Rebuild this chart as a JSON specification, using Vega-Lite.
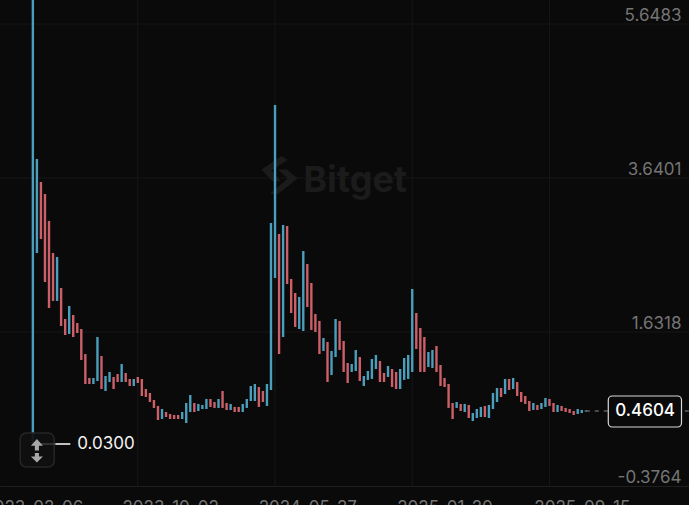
{"$schema":"https://vega.github.io/schema/vega-lite/v6.json","width":689,"height":505,"padding":0,"autosize":"none","background":"#0a0a0a",
"config":{"view":{"stroke":null},"font":"Inter"},
"datasets":{"bars":[
{"date":"2023-02-06","high":6.3,"low":0.03,"side":"up"},{"date":"2023-02-13","high":3.746,"low":2.52,"side":"up"},{"date":"2023-02-20","high":3.446,"low":2.703,"side":"down"},{"date":"2023-02-27","high":3.29,"low":2.142,"side":"down"},
{"date":"2023-03-06","high":2.938,"low":1.803,"side":"down"},{"date":"2023-03-13","high":2.52,"low":1.895,"side":"down"},{"date":"2023-03-20","high":2.468,"low":1.895,"side":"up"},{"date":"2023-03-27","high":2.064,"low":1.568,"side":"down"},
{"date":"2023-04-03","high":1.66,"low":1.451,"side":"down"},{"date":"2023-04-10","high":1.829,"low":1.464,"side":"up"},{"date":"2023-04-17","high":1.712,"low":1.425,"side":"down"},{"date":"2023-04-24","high":1.608,"low":1.477,"side":"down"},
{"date":"2023-05-01","high":1.529,"low":1.125,"side":"down"},{"date":"2023-05-08","high":1.203,"low":0.812,"side":"down"},{"date":"2023-05-15","high":0.891,"low":0.812,"side":"down"},{"date":"2023-05-22","high":0.891,"low":0.812,"side":"up"},{"date":"2023-05-29","high":1.425,"low":0.851,"side":"up"},
{"date":"2023-06-05","high":1.177,"low":0.747,"side":"down"},{"date":"2023-06-12","high":0.917,"low":0.721,"side":"up"},{"date":"2023-06-19","high":0.969,"low":0.838,"side":"up"},{"date":"2023-06-26","high":0.904,"low":0.747,"side":"down"},
{"date":"2023-07-03","high":0.943,"low":0.838,"side":"down"},{"date":"2023-07-10","high":1.073,"low":0.838,"side":"up"},{"date":"2023-07-17","high":0.956,"low":0.838,"side":"down"},{"date":"2023-07-24","high":0.878,"low":0.786,"side":"down"},{"date":"2023-07-31","high":0.878,"low":0.786,"side":"up"},
{"date":"2023-08-07","high":0.904,"low":0.825,"side":"down"},{"date":"2023-08-14","high":0.878,"low":0.656,"side":"down"},{"date":"2023-08-21","high":0.747,"low":0.643,"side":"down"},{"date":"2023-08-28","high":0.695,"low":0.578,"side":"down"},
{"date":"2023-09-04","high":0.604,"low":0.5,"side":"down"},{"date":"2023-09-11","high":0.526,"low":0.343,"side":"down"},{"date":"2023-09-18","high":0.486,"low":0.356,"side":"up"},{"date":"2023-09-25","high":0.447,"low":0.382,"side":"down"},
{"date":"2023-10-02","high":0.421,"low":0.356,"side":"down"},{"date":"2023-10-09","high":0.408,"low":0.356,"side":"down"},{"date":"2023-10-16","high":0.408,"low":0.356,"side":"down"},{"date":"2023-10-23","high":0.447,"low":0.356,"side":"up"},{"date":"2023-10-30","high":0.565,"low":0.304,"side":"up"},
{"date":"2023-11-06","high":0.669,"low":0.447,"side":"up"},{"date":"2023-11-13","high":0.565,"low":0.447,"side":"down"},{"date":"2023-11-20","high":0.552,"low":0.46,"side":"up"},{"date":"2023-11-27","high":0.539,"low":0.486,"side":"up"},
{"date":"2023-12-04","high":0.617,"low":0.486,"side":"up"},{"date":"2023-12-11","high":0.617,"low":0.513,"side":"down"},{"date":"2023-12-18","high":0.578,"low":0.5,"side":"down"},{"date":"2023-12-25","high":0.617,"low":0.5,"side":"up"},
{"date":"2024-01-01","high":0.721,"low":0.5,"side":"down"},{"date":"2024-01-08","high":0.565,"low":0.473,"side":"down"},{"date":"2024-01-15","high":0.552,"low":0.473,"side":"up"},{"date":"2024-01-22","high":0.513,"low":0.447,"side":"down"},{"date":"2024-01-29","high":0.513,"low":0.447,"side":"down"},
{"date":"2024-02-05","high":0.552,"low":0.447,"side":"up"},{"date":"2024-02-12","high":0.617,"low":0.5,"side":"up"},{"date":"2024-02-19","high":0.786,"low":0.591,"side":"up"},{"date":"2024-02-26","high":0.812,"low":0.591,"side":"up"},
{"date":"2024-03-04","high":0.773,"low":0.513,"side":"down"},{"date":"2024-03-11","high":0.721,"low":0.578,"side":"down"},{"date":"2024-03-18","high":0.812,"low":0.526,"side":"up"},{"date":"2024-03-25","high":2.912,"low":0.734,"side":"up"},
{"date":"2024-04-01","high":4.45,"low":2.194,"side":"up"},{"date":"2024-04-08","high":2.768,"low":1.203,"side":"down"},{"date":"2024-04-15","high":2.886,"low":1.425,"side":"up"},{"date":"2024-04-22","high":2.872,"low":2.116,"side":"down"},{"date":"2024-04-29","high":2.181,"low":1.738,"side":"down"},
{"date":"2024-05-06","high":1.999,"low":1.556,"side":"down"},{"date":"2024-05-13","high":1.947,"low":1.529,"side":"up"},{"date":"2024-05-20","high":2.546,"low":1.503,"side":"up"},{"date":"2024-05-27","high":2.377,"low":1.816,"side":"down"},
{"date":"2024-06-03","high":2.129,"low":1.517,"side":"down"},{"date":"2024-06-10","high":1.725,"low":1.49,"side":"down"},{"date":"2024-06-17","high":1.634,"low":1.203,"side":"down"},{"date":"2024-06-24","high":1.412,"low":1.243,"side":"up"},
{"date":"2024-07-01","high":1.36,"low":0.838,"side":"down"},{"date":"2024-07-08","high":1.243,"low":0.93,"side":"up"},{"date":"2024-07-15","high":1.66,"low":1.164,"side":"up"},{"date":"2024-07-22","high":1.634,"low":1.256,"side":"down"},{"date":"2024-07-29","high":1.373,"low":0.969,"side":"down"},
{"date":"2024-08-05","high":1.086,"low":0.825,"side":"down"},{"date":"2024-08-12","high":1.073,"low":0.969,"side":"up"},{"date":"2024-08-19","high":1.256,"low":0.982,"side":"up"},{"date":"2024-08-26","high":1.164,"low":0.851,"side":"down"},
{"date":"2024-09-02","high":0.917,"low":0.786,"side":"up"},{"date":"2024-09-09","high":0.982,"low":0.865,"side":"up"},{"date":"2024-09-16","high":1.138,"low":0.878,"side":"up"},{"date":"2024-09-23","high":1.191,"low":1.008,"side":"up"},{"date":"2024-09-30","high":1.112,"low":0.838,"side":"down"},
{"date":"2024-10-07","high":0.956,"low":0.838,"side":"down"},{"date":"2024-10-14","high":1.047,"low":0.904,"side":"up"},{"date":"2024-10-21","high":1.008,"low":0.773,"side":"down"},{"date":"2024-10-28","high":0.969,"low":0.747,"side":"down"},
{"date":"2024-11-04","high":1.008,"low":0.747,"side":"up"},{"date":"2024-11-11","high":1.151,"low":0.865,"side":"up"},{"date":"2024-11-18","high":1.191,"low":0.878,"side":"up"},{"date":"2024-11-25","high":2.051,"low":0.969,"side":"up"},
{"date":"2024-12-02","high":1.738,"low":1.269,"side":"down"},{"date":"2024-12-09","high":1.543,"low":0.969,"side":"down"},{"date":"2024-12-16","high":1.425,"low":0.969,"side":"down"},{"date":"2024-12-23","high":1.23,"low":1.034,"side":"up"},{"date":"2024-12-30","high":1.256,"low":1.021,"side":"up"},
{"date":"2025-01-06","high":1.308,"low":0.969,"side":"down"},{"date":"2025-01-13","high":1.06,"low":0.786,"side":"down"},{"date":"2025-01-20","high":0.891,"low":0.773,"side":"down"},{"date":"2025-01-27","high":0.812,"low":0.5,"side":"down"},
{"date":"2025-02-03","high":0.565,"low":0.356,"side":"down"},{"date":"2025-02-10","high":0.578,"low":0.5,"side":"up"},{"date":"2025-02-17","high":0.552,"low":0.46,"side":"down"},{"date":"2025-02-24","high":0.552,"low":0.447,"side":"up"},
{"date":"2025-03-03","high":0.539,"low":0.369,"side":"down"},{"date":"2025-03-10","high":0.434,"low":0.33,"side":"up"},{"date":"2025-03-17","high":0.486,"low":0.369,"side":"up"},{"date":"2025-03-24","high":0.513,"low":0.382,"side":"up"},{"date":"2025-03-31","high":0.526,"low":0.382,"side":"down"},
{"date":"2025-04-07","high":0.539,"low":0.369,"side":"up"},{"date":"2025-04-14","high":0.695,"low":0.486,"side":"up"},{"date":"2025-04-21","high":0.76,"low":0.578,"side":"up"},{"date":"2025-04-28","high":0.76,"low":0.643,"side":"down"},
{"date":"2025-05-05","high":0.878,"low":0.682,"side":"up"},{"date":"2025-05-12","high":0.878,"low":0.734,"side":"down"},{"date":"2025-05-19","high":0.891,"low":0.747,"side":"up"},{"date":"2025-05-26","high":0.838,"low":0.656,"side":"down"},
{"date":"2025-06-02","high":0.708,"low":0.578,"side":"down"},{"date":"2025-06-09","high":0.656,"low":0.552,"side":"down"},{"date":"2025-06-16","high":0.591,"low":0.46,"side":"down"},{"date":"2025-06-23","high":0.565,"low":0.473,"side":"up"},{"date":"2025-06-30","high":0.539,"low":0.473,"side":"down"},
{"date":"2025-07-07","high":0.565,"low":0.486,"side":"up"},{"date":"2025-07-14","high":0.63,"low":0.513,"side":"up"},{"date":"2025-07-21","high":0.617,"low":0.526,"side":"down"},{"date":"2025-07-28","high":0.565,"low":0.447,"side":"down"},
{"date":"2025-08-04","high":0.539,"low":0.447,"side":"up"},{"date":"2025-08-11","high":0.526,"low":0.46,"side":"down"},{"date":"2025-08-18","high":0.5,"low":0.447,"side":"down"},{"date":"2025-08-25","high":0.486,"low":0.434,"side":"down"},
{"date":"2025-09-01","high":0.46,"low":0.408,"side":"down"},{"date":"2025-09-08","high":0.486,"low":0.421,"side":"up"},{"date":"2025-09-15","high":0.473,"low":0.434,"side":"up"},{"date":"2025-09-22","high":0.467,"low":0.454,"side":"up"}
]},
"layer":[
{"data":{"values":[{"v":5.506,"t":"2022-12-11","t2":"2026-03-20"},{"v":3.498,"t":"2022-12-11","t2":"2026-03-20"},{"v":1.49,"t":"2022-12-11","t2":"2026-03-20"}]},"mark":{"type":"rule","color":"#171717","strokeWidth":1},"encoding":{"y":{"field":"v","type":"quantitative","scale":{"domain":[-0.7653,5.8189],"nice":false,"zero":false},"axis":{"orient":"right","values":[5.6483,3.6401,1.6318,-0.3764],"format":".4f","labelExpr":"replace(datum.label,'−','-')","title":null,"ticks":false,"domain":false,"grid":false,"labelAlign":"right","labelPadding":-8,"labelOffset":2,"labelFontSize":17,"labelColor":"#757575","labelFont":"Inter","labelBound":false,"labelFlush":false}}}},
{"data":{"values":[{"t":"2023-08-07","v":5.8189,"v2":-0.5174},{"t":"2024-04-01","v":5.8189,"v2":-0.5174},{"t":"2024-11-25","v":5.8189,"v2":-0.5174},{"t":"2025-07-21","v":5.8189,"v2":-0.5174}]},"mark":{"type":"rule","color":"#171717","strokeWidth":1},"encoding":{"x":{"field":"t","type":"temporal","scale":{"type":"utc","domain":["2022-12-11","2026-03-20"]},"axis":{"values":["2023-02-06","2023-10-02","2024-05-27","2025-01-20","2025-09-15"],"format":"%Y-%m-%d","title":null,"ticks":false,"grid":false,"domain":true,"domainColor":"#1e1e1e","offset":-19,"labelFontSize":17,"labelColor":"#757575","labelFont":"Inter","labelPadding":13,"labelOverlap":false,"labelBound":false,"labelFlush":false,"labelAlign":"center","labelBaseline":"top"}},"y":{"field":"v","type":"quantitative"},"y2":{"field":"v2"}}},
{"data":{"values":[{"t":"2024-05-20","v":3.316,"label":"Bitget"}]},"mark":{"type":"text","align":"left","baseline":"alphabetic","font":"Inter","fontWeight":700,"fontSize":36,"color":"#1b1b1b"},"encoding":{"x":{"field":"t","type":"temporal"},"y":{"field":"v","type":"quantitative"},"text":{"field":"label"}}},
{"data":{"values":[{"t":"2024-04-09","v":3.537}]},"mark":{"type":"point","filled":true,"opacity":1,"size":1296,"color":"#1b1b1b","shape":"M0.1,-1.05 L-1,-0.3 L-0.4,0.35 L0.05,0.35 L-0.45,-0.25 L0.45,-0.85 Z M-0.1,-0.3 L0.4,-0.3 L1,0.2 L-0.1,1.05 L-0.55,1.05 L0.45,0.2 Z"},"encoding":{"x":{"field":"t","type":"temporal"},"y":{"field":"v","type":"quantitative"}}},
{"data":{"name":"bars"},"mark":{"type":"rule","strokeWidth":2.4,"clip":true},"encoding":{"x":{"field":"date","type":"temporal"},"y":{"field":"high","type":"quantitative"},"y2":{"field":"low"},"color":{"field":"side","type":"nominal","scale":{"domain":["up","down"],"range":["#4a9fbd","#cc5f68"]},"legend":null}}},
{"data":{"values":[{"t":"2025-09-22","t2":"2026-03-20","v":0.4604}]},"mark":{"type":"rule","color":"#8a8a8a","strokeWidth":1,"strokeDash":[4,5]},"encoding":{"x":{"field":"t","type":"temporal"},"x2":{"field":"t2"},"y":{"field":"v","type":"quantitative"}}},
{"data":{"values":[{"t":"2023-01-15","t2":"2023-03-15","v":0.1736,"v2":-0.2697}]},"mark":{"type":"rect","fill":"#101010","fillOpacity":0.93,"stroke":"#262626","strokeWidth":1.5,"cornerRadius":6},"encoding":{"x":{"field":"t","type":"temporal"},"x2":{"field":"t2"},"y":{"field":"v","type":"quantitative"},"y2":{"field":"v2"}}},
{"data":{"values":[{"t":"2023-02-13","t2":"2023-03-17","v":0.03}]},"mark":{"type":"rule","color":"#555555","strokeWidth":1},"encoding":{"x":{"field":"t","type":"temporal"},"x2":{"field":"t2"},"y":{"field":"v","type":"quantitative"}}},
{"data":{"values":[{"t":"2023-02-13","v":-0.0546}]},"mark":{"type":"point","filled":true,"opacity":1,"size":576,"color":"#a8a8a8","shape":"M0,-0.96 L0.5,-0.4 L0.17,-0.4 L0.17,0 L-0.17,0 L-0.17,-0.4 L-0.5,-0.4 Z M0.17,0.2 L0.17,0.5 L0.5,0.5 L0,1 L-0.5,0.5 L-0.17,0.5 L-0.17,0.2 Z"},"encoding":{"x":{"field":"t","type":"temporal"},"y":{"field":"v","type":"quantitative"}}},
{"data":{"values":[{"t":"2023-03-17","t2":"2023-04-12","v":0.03}]},"mark":{"type":"rule","color":"#ffffff","strokeWidth":1.5},"encoding":{"x":{"field":"t","type":"temporal"},"x2":{"field":"t2"},"y":{"field":"v","type":"quantitative"}}},
{"data":{"values":[{"t":"2023-04-24","v":0.03,"label":"0.0300"}]},"mark":{"type":"text","align":"left","baseline":"middle","font":"Inter","fontSize":17,"color":"#f2f2f2"},"encoding":{"x":{"field":"t","type":"temporal"},"y":{"field":"v","type":"quantitative"},"text":{"field":"label"}}},
{"data":{"values":[{"t":"2025-10-31","t2":"2026-03-07","v":0.656,"v2":0.2518}]},"mark":{"type":"rect","fill":"#0a0a0a","stroke":"#d8d8d8","strokeWidth":1.2,"cornerRadius":4},"encoding":{"x":{"field":"t","type":"temporal"},"x2":{"field":"t2"},"y":{"field":"v","type":"quantitative"},"y2":{"field":"v2"}}},
{"data":{"values":[{"t":"2026-01-03","v":0.4604,"label":"0.4604"}]},"mark":{"type":"text","align":"center","baseline":"middle","font":"Inter","fontWeight":500,"fontSize":17,"color":"#ffffff"},"encoding":{"x":{"field":"t","type":"temporal"},"y":{"field":"v","type":"quantitative"},"text":{"field":"label"}}}
]}
